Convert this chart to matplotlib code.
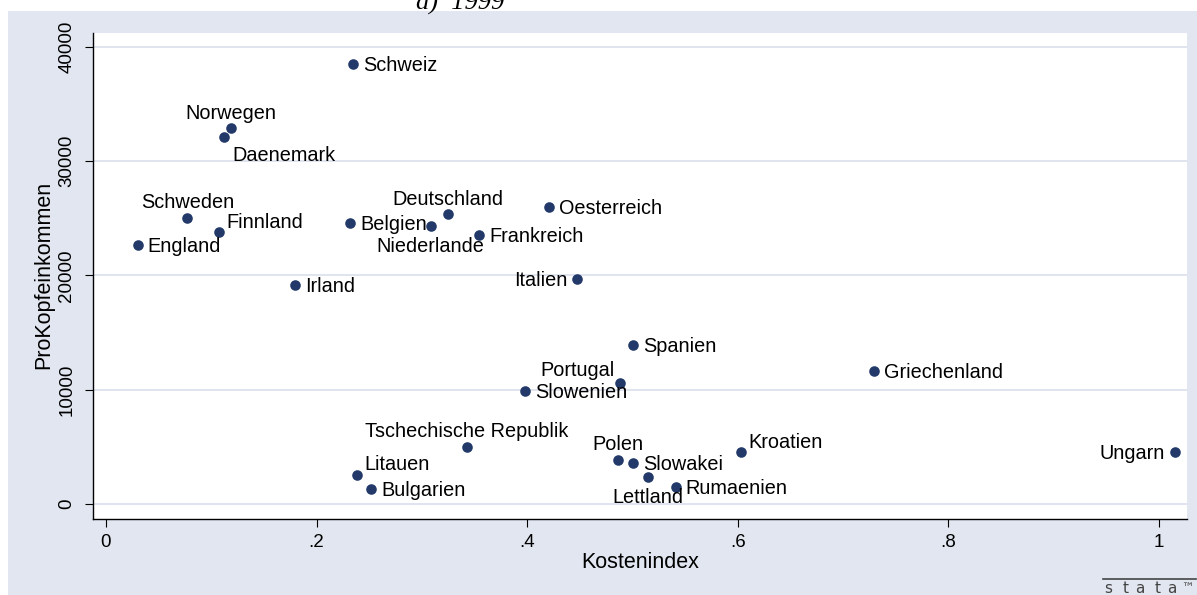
import numpy as np
import matplotlib
matplotlib.use("Agg")
from matplotlib import pyplot as plt
from matplotlib.patches import Rectangle

# data (Kostenindex vs. ProKopfeinkommen, 1999)
countries = ["Schweiz", "Norwegen", "Daenemark", "Schweden", "Finnland", "England",
             "Irland", "Belgien", "Niederlande", "Deutschland", "Oesterreich",
             "Frankreich", "Italien", "Spanien", "Portugal", "Slowenien",
             "Griechenland", "Tschechische Republik", "Litauen", "Bulgarien",
             "Polen", "Slowakei", "Lettland", "Rumaenien", "Kroatien", "Ungarn"]
kostenindex = [0.2346, 0.1187, 0.1121, 0.0772, 0.1073, 0.0301,
               0.1795, 0.2317, 0.3084, 0.3251, 0.4210,
               0.3545, 0.4476, 0.5005, 0.4884, 0.3982,
               0.7296, 0.3425, 0.2387, 0.2517,
               0.4865, 0.5008, 0.5150, 0.5410, 0.6027, 1.0152]
einkommen = [38490, 32870, 32110, 25060, 23780, 22650,
             19120, 24620, 24330, 25360, 26020,
             23490, 19680, 13940, 10620, 9860,
             11660, 5000, 2550, 1330,
             3890, 3600, 2380, 1470, 4530, 4560]
xticks = [0, 0.2, 0.4, 0.6, 0.8, 1.0]
xticklabels = ["0", ".2", ".4", ".6", ".8", "1"]
yticks = [0, 10000, 20000, 30000, 40000]

# marker label clock positions (Stata style mlabvposition)
label_clock = {"Norwegen": 12, "Daenemark": 5, "Schweden": 12, "Finnland": 2,
               "Niederlande": 6, "Deutschland": 12, "Italien": 9, "Portugal": 11,
               "Tschechische Republik": 12, "Litauen": 1, "Polen": 12,
               "Lettland": 6, "Kroatien": 1, "Ungarn": 9}
# offsets in pixels (dx, dy of baseline) and horizontal alignment
clock_style = {3: (10, -7, "left"), 9: (-10, -7, "right"), 12: (0, 9.5, "center"),
               6: (0, -26, "center"), 1: (7.5, 4.5, "left"), 2: (7.5, 4, "left"),
               11: (-6, 6.5, "right"), 5: (8, -24, "left")}

W, H = 1197, 595
BG = "#E1E6F0"
NAVY = "#22396A"
plt.rcParams["font.family"] = ["Liberation Sans", "DejaVu Sans"]

fig = plt.figure(figsize=(W / 100, H / 100), dpi=100, facecolor="white")
bg = Rectangle((8 / W, 0), 1 - 8 / W, 1 - 11 / H, transform=fig.transFigure,
               facecolor=BG, edgecolor="none", zorder=-10)
fig.add_artist(bg)

left, right, top, bottom = 92.7, 1187, 33, 519
ax = fig.add_axes([left / W, (H - bottom) / H, (right - left) / W, (bottom - top) / H])
ax.set_facecolor("white")
ax.set_xlim(-0.01263, 1.0266)
ax.set_ylim(-1310, 41200)

for yt in yticks:
    ax.axhline(yt, color="#DCE2EE", lw=1.3, zorder=1)

ax.scatter(kostenindex, einkommen, s=58, color=NAVY, zorder=3, linewidths=0)

for name, x, y in zip(countries, kostenindex, einkommen):
    dx, dy, ha = clock_style[label_clock.get(name, 3)]
    ax.annotate(name, (x, y), xytext=(dx, dy), textcoords="offset pixels",
                ha=ha, va="baseline", fontsize=14.3, color="black", zorder=4)

for side in ["top", "right"]:
    ax.spines[side].set_visible(False)
for side in ["left", "bottom"]:
    ax.spines[side].set_linewidth(1.0)
    ax.spines[side].set_color("black")

ax.set_xticks(xticks)
ax.set_xticklabels(xticklabels)
ax.set_yticks(yticks)
ax.set_yticklabels([str(v) for v in yticks], rotation=90, va="center")
ax.tick_params(axis="both", direction="out", length=5.5, width=0.8, labelsize=13.5)
ax.tick_params(axis="x", pad=5.5)
ax.tick_params(axis="y", pad=7)

fig.text(640 / W, 1 - 562 / H, "Kostenindex", ha="center", va="center", fontsize=15.5)
fig.text(44 / W, 1 - 275 / H, "ProKopfeinkommen", ha="center", va="center",
         rotation=90, fontsize=15.5)

# title, cut off at the top edge as in the reference
fig.text(460 / W, 1 - 10 / H, "a)  1999", ha="center", va="baseline", fontsize=19,
         style="italic", family="Liberation Serif", zorder=5)

# stata logo: rule plus spaced letters
fig.add_artist(plt.Line2D([1103 / W, 1196 / W], [1 - 579 / H, 1 - 579 / H],
                          transform=fig.transFigure, color="#444444", lw=1.2))
for ch, cx in zip("stata", [1108, 1126, 1140, 1157.5, 1172]):
    fig.text(cx / W, 1 - 593 / H, ch, ha="center", va="baseline", fontsize=11,
             color="#444444", family="DejaVu Sans")
fig.text(1187.5 / W, 1 - 592 / H, "™", ha="center", va="baseline", fontsize=9,
         color="#444444", family="DejaVu Sans")

fig.savefig("out.png", dpi=100, facecolor=fig.get_facecolor())
